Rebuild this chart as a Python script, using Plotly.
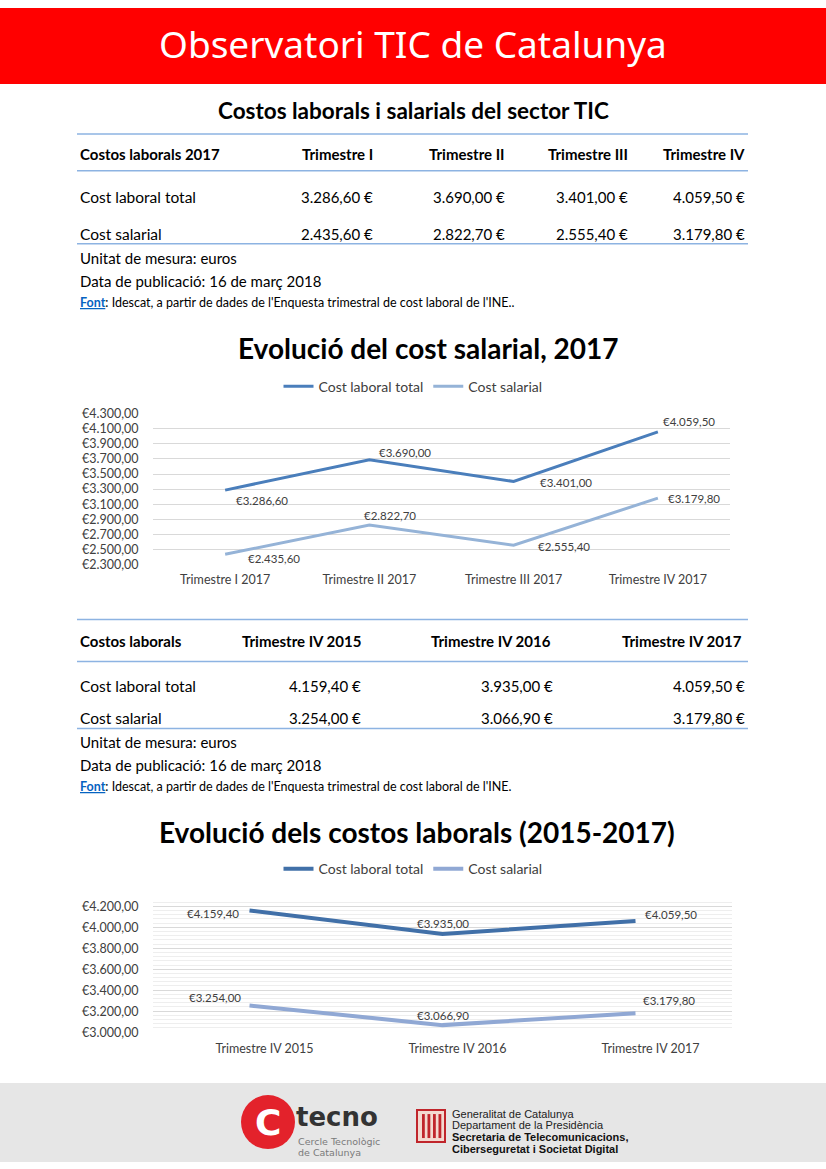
import plotly.graph_objects as go

W, H = 826, 1169

# ---------------- data ----------------
quarters_2017 = ["Trimestre I", "Trimestre II", "Trimestre III", "Trimestre IV"]
chart1_categories = ["Trimestre I 2017", "Trimestre II 2017", "Trimestre III 2017", "Trimestre IV 2017"]
cost_laboral_2017 = [3286.60, 3690.00, 3401.00, 4059.50]
cost_salarial_2017 = [2435.60, 2822.70, 2555.40, 3179.80]

quarters_iv = ["Trimestre IV 2015", "Trimestre IV 2016", "Trimestre IV 2017"]
cost_laboral_iv = [4159.40, 3935.00, 4059.50]
cost_salarial_iv = [3254.00, 3066.90, 3179.80]

row_labels = ["Cost laboral total", "Cost salarial"]
unit_note = "Unitat de mesura: euros"
date_note = "Data de publicació: 16 de març 2018"
source_note1 = "<u>Font</u>: Idescat, a partir de dades de l'Enquesta trimestral de cost laboral de l'INE.."
source_note2 = "<u>Font</u>: Idescat, a partir de dades de l'Enquesta trimestral de cost laboral de l'INE."


def fmt(v):
    s = f"{v:,.2f}"
    return s.replace(",", "X").replace(".", ",").replace("X", ".")


# page-position helpers (layout only)
OFF_Y = 7.0
SCALE_Y = 0.988


def px(x):
    return x / W


def py(y):
    return 1 - ((y - OFF_Y) / SCALE_Y) / H


BODY = "Lato"
TXT = "#000000"
LBL = "#404040"
RULE = "#8db3e2"

C1_TOTAL = "#4a7ebb"
C1_SAL = "#95b3d7"
C2_TOTAL = "#4170a8"
C2_SAL = "#90a8d4"

fig = go.Figure()

fig.add_trace(go.Scatter(x=chart1_categories, y=cost_laboral_2017, mode="lines", name="Cost laboral total",
                         line=dict(color=C1_TOTAL, width=3), xaxis="x", yaxis="y", legend="legend"))
fig.add_trace(go.Scatter(x=chart1_categories, y=cost_salarial_2017, mode="lines", name="Cost salarial",
                         line=dict(color=C1_SAL, width=3), xaxis="x", yaxis="y", legend="legend"))
fig.add_trace(go.Scatter(x=quarters_iv, y=cost_laboral_iv, mode="lines", name="Cost laboral total",
                         line=dict(color=C2_TOTAL, width=4), xaxis="x2", yaxis="y2", legend="legend2"))
fig.add_trace(go.Scatter(x=quarters_iv, y=cost_salarial_iv, mode="lines", name="Cost salarial",
                         line=dict(color=C2_SAL, width=4), xaxis="x2", yaxis="y2", legend="legend2"))

ann = []
shapes = []
LBLSIZE = 11.5

c1_total_pos = [("center", 37, -10), ("left", 8, 7), ("left", 24, -1), ("left", 3, 10)]
c1_sal_pos = [("left", 21, -4), ("center", 21, 10), ("left", 22, -1), ("left", 8, 0)]
for cats, vals, poss in [
    (chart1_categories, cost_laboral_2017, c1_total_pos),
    (chart1_categories, cost_salarial_2017, c1_sal_pos),
]:
    for c, v, (xa, xs, ys) in zip(cats, vals, poss):
        ann.append(dict(x=c, y=v, xref="x", yref="y", text="€" + fmt(v), showarrow=False,
                        xanchor=xa, yanchor="middle", xshift=xs, yshift=ys,
                        font=dict(family=BODY, size=LBLSIZE, color=LBL)))

c2_total_pos = [("right", -9, -3), ("center", 0, 11), ("left", 7, 6)]
c2_sal_pos = [("right", -7, 8), ("center", 0, 10), ("left", 5, 13)]
for cats, vals, poss in [
    (quarters_iv, cost_laboral_iv, c2_total_pos),
    (quarters_iv, cost_salarial_iv, c2_sal_pos),
]:
    for c, v, (xa, xs, ys) in zip(cats, vals, poss):
        ann.append(dict(x=c, y=v, xref="x2", yref="y2", text="€" + fmt(v), showarrow=False,
                        xanchor=xa, yanchor="middle", xshift=xs, yshift=ys,
                        font=dict(family=BODY, size=LBLSIZE, color=LBL)))


def text(x, y, s, size=15, color=TXT, xanchor="left", bold=False, family=BODY):
    if bold:
        s = "<b>" + s + "</b>"
    ann.append(dict(x=px(x), y=py(y), xref="paper", yref="paper", text=s, showarrow=False,
                    xanchor=xanchor, yanchor="middle", font=dict(family=family, size=size, color=color)))


def hline(x0, x1, y, color=RULE, width=1.5):
    shapes.append(dict(type="line", xref="paper", yref="paper", x0=px(x0), x1=px(x1), y0=py(y), y1=py(y),
                       line=dict(color=color, width=width)))


# header band
shapes.append(dict(type="rect", xref="paper", yref="paper", x0=0, x1=1, y0=py(83), y1=1,
                   fillcolor="#ff0000", line=dict(width=0), layer="below"))
text(413, 43, "Observatori TIC de Catalunya", size=37, color="#ffffff", xanchor="center", family="Noto Sans")

# footer band
shapes.append(dict(type="rect", xref="paper", yref="paper", x0=0, x1=1, y0=0, y1=py(1083),
                   fillcolor="#e6e6e6", line=dict(width=0), layer="below"))

# ---------------- table 1 ----------------
text(413, 110, "Costos laborals i salarials del sector TIC", size=22.5, xanchor="center", bold=True)
hline(77, 748, 133)
hline(77, 748, 170)
hline(77, 748, 243)
text(78, 153, "Costos laborals 2017", size=15, bold=True)
t1_right = [375, 507, 630, 747]
for q, xr in zip(quarters_2017, t1_right):
    text(xr, 153, q, size=15, bold=True, xanchor="right")
for r, (lab, vals) in enumerate(zip(row_labels, [cost_laboral_2017, cost_salarial_2017])):
    yrow = [196, 233][r]
    text(78, yrow, lab, size=15.5)
    for v, xr in zip(vals, t1_right):
        text(xr, yrow, fmt(v) + " €", size=15, xanchor="right")
text(78, 257, unit_note, size=15)
text(78, 280, date_note, size=15)
text(78, 302, source_note1.replace("<u>Font</u>", "<b><span style='color:#0563c1'><u>Font</u></span></b>"), size=12.5)

text(428, 347, "Evolució del cost salarial, 2017", size=28, xanchor="center", bold=True)

# ---------------- table 2 ----------------
hline(77, 748, 619)
hline(77, 748, 661)
hline(77, 748, 728)
text(78, 641, "Costos laborals", size=15, bold=True)
t2_head_right = [363, 553, 744]
t2_val_right = [363, 555, 747]
for q, xr in zip(quarters_iv, t2_head_right):
    text(xr, 641, q, size=15, bold=True, xanchor="right")
for r, (lab, vals) in enumerate(zip(row_labels, [cost_laboral_iv, cost_salarial_iv])):
    yrow = [686, 718][r]
    text(78, yrow, lab, size=15.5)
    for v, xr in zip(vals, t2_val_right):
        text(xr, yrow, fmt(v) + " €", size=15, xanchor="right")
text(78, 742, unit_note, size=15)
text(78, 765, date_note, size=15)
text(78, 786, source_note2.replace("<u>Font</u>", "<b><span style='color:#0563c1'><u>Font</u></span></b>"), size=12.5)

text(417, 832, "Evolució dels costos laborals (2015-2017)", size=28, xanchor="center", bold=True)

# ---------------- footer logos ----------------
shapes.append(dict(type="circle", xref="paper", yref="paper", x0=px(241), x1=px(295), y0=py(1149), y1=py(1095),
                   fillcolor="#e3222b", line=dict(width=0)))
text(268, 1122, "C", size=36, color="#ffffff", xanchor="center", bold=True, family="DejaVu Sans")
text(294, 1117, "tecno", size=26, color="#333333", bold=True, family="DejaVu Sans")
text(296, 1141, "Cercle Tecnològic", size=9.5, color="#7a7a7a", family="DejaVu Sans")
text(296, 1152, "de Catalunya", size=9.5, color="#7a7a7a", family="DejaVu Sans")

shapes.append(dict(type="rect", xref="paper", yref="paper", x0=px(417), x1=px(445), y0=py(1142), y1=py(1110),
                   fillcolor="#f3d9d0", line=dict(color="#c0252b", width=2)))
for i in range(4):
    xs = 422 + i * 5.5
    shapes.append(dict(type="rect", xref="paper", yref="paper", x0=px(xs), x1=px(xs + 2.8),
                       y0=py(1138), y1=py(1114), fillcolor="#c0252b", line=dict(width=0)))
text(450, 1114, "Generalitat de Catalunya", size=11, color="#222222", family="Liberation Sans")
text(450, 1125, "Departament de la Presidència", size=11, color="#222222", family="Liberation Sans")
text(450, 1137, "Secretaria de Telecomunicacions,", size=11, color="#111111", bold=True, family="Liberation Sans")
text(450, 1149, "Ciberseguretat i Societat Digital", size=11, color="#111111", bold=True, family="Liberation Sans")

tickfont = dict(family=BODY, size=12.5, color="#404040")

fig.update_layout(
    width=W, height=H,
    margin=dict(l=0, r=0, t=0, b=0),
    paper_bgcolor="#ffffff", plot_bgcolor="rgba(0,0,0,0)",
    separators=",.",
    showlegend=True,
    hovermode=False,
    annotations=ann, shapes=shapes,
    xaxis=dict(domain=[px(153), px(730)], type="category", range=[-0.5, 3.5], showgrid=False,
               showline=False, zeroline=False, tickfont=tickfont, ticks="outside", ticklen=3,
               tickcolor="rgba(0,0,0,0)"),
    yaxis=dict(domain=[py(564), py(413)], range=[2300, 4300], dtick=200, tick0=2300,
               tickprefix="€", tickformat=",.2f", showgrid=True, gridcolor="#d9d9d9", gridwidth=1,
               zeroline=False, showline=False, tickfont=tickfont, ticks="outside", ticklen=11,
               tickcolor="rgba(0,0,0,0)", anchor="x"),
    xaxis2=dict(domain=[px(153), px(732)], type="category", range=[-0.5, 2.5], showgrid=False,
                showline=False, zeroline=False, tickfont=tickfont, ticks="outside", ticklen=5,
                tickcolor="rgba(0,0,0,0)", anchor="y2", ticklabelshift=15),
    yaxis2=dict(domain=[py(1032), py(897.5)], range=[3000, 4281], dtick=200, tick0=3000,
                tickprefix="€", tickformat=",.2f", showgrid=True, gridcolor="#d9d9d9", gridwidth=1,
                minor=dict(dtick=40, showgrid=True, gridcolor="#eeeeee", gridwidth=1),
                zeroline=False, showline=False, tickfont=tickfont, ticks="outside", ticklen=11,
                tickcolor="rgba(0,0,0,0)", anchor="x2"),
    legend=dict(orientation="h", x=0.5, xanchor="center", y=py(386), yanchor="middle",
                font=dict(family=BODY, size=14, color="#404040"), bgcolor="rgba(0,0,0,0)",
                itemwidth=30, tracegroupgap=0),
    legend2=dict(orientation="h", x=0.5, xanchor="center", y=py(869), yanchor="middle",
                 font=dict(family=BODY, size=14, color="#404040"), bgcolor="rgba(0,0,0,0)",
                 itemwidth=30, tracegroupgap=0),
)

fig.write_html(
    "out.html",
    config={"displayModeBar": False, "staticPlot": True},
    post_script=(
        "var gd=document.getElementById('{plot_id}');"
        "document.documentElement.style.margin='0';document.body.style.margin='0';"
        "document.body.style.padding='0';"
        "var bg='linear-gradient(to bottom, #ff0000 0%, #ff0000 50%, #e6e6e6 50%, #e6e6e6 100%)';"
        "document.documentElement.style.background=bg;document.body.style.background=bg;"
        "gd.style.position='fixed';gd.style.top='0px';gd.style.left='0px';"
        "document.documentElement.style.overflow='hidden';document.body.style.overflow='hidden';"
    ),
)
